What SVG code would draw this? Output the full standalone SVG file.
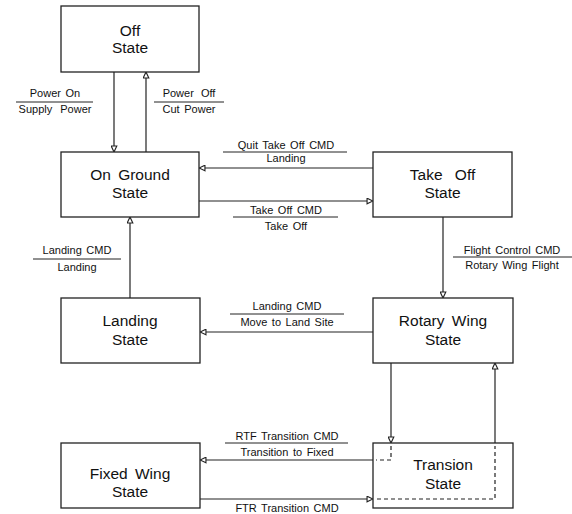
<svg xmlns="http://www.w3.org/2000/svg" width="572" height="514" viewBox="0 0 572 514">
<style>
.box{fill:#fff;stroke:#222;stroke-width:1.3}
.st{font-family:"Liberation Sans",Arial,sans-serif;font-size:15.5px;fill:#111;text-anchor:middle;word-spacing:3px}
.lb{font-family:"Liberation Sans",Arial,sans-serif;font-size:11px;fill:#111;text-anchor:middle;word-spacing:1.5px}
.ln{stroke:#222;stroke-width:1.2;fill:none}
.dash{stroke:#222;stroke-width:1.2;fill:none;stroke-dasharray:4,3}
.bar{stroke:#222;stroke-width:1}
</style>
<defs>
<marker id="ah" viewBox="0 0 10 10" refX="9.5" refY="5" markerWidth="7" markerHeight="7" orient="auto" markerUnits="userSpaceOnUse">
<path d="M1,1 L9.5,5 L1,9 Z" fill="#fff" stroke="#222" stroke-width="1.6"/>
</marker>
</defs>
<rect width="572" height="514" fill="#fff"/>
<g id="off">
<rect class="box" x="61" y="6" width="138" height="66"/>
<text class="st" x="130" y="36">Off</text>
<text class="st" x="130" y="53">State</text>
</g>
<g id="onground">
<rect class="box" x="61" y="152" width="138" height="65"/>
<text class="st" x="130" y="180">On Ground</text>
<text class="st" x="130" y="198">State</text>
</g>
<g id="takeoff">
<rect class="box" x="373" y="152" width="139" height="65"/>
<text class="st" x="442.5" y="180" style="word-spacing:8px">Take Off</text>
<text class="st" x="442.5" y="198">State</text>
</g>
<g id="landing">
<rect class="box" x="61" y="298" width="139" height="65"/>
<text class="st" x="130" y="326">Landing</text>
<text class="st" x="130" y="345">State</text>
</g>
<g id="rotarywing">
<rect class="box" x="373" y="298" width="140" height="65"/>
<text class="st" x="443" y="326">Rotary Wing</text>
<text class="st" x="443" y="345">State</text>
</g>
<g id="fixedwing">
<rect class="box" x="61" y="443" width="139" height="65"/>
<text class="st" x="130" y="479">Fixed Wing</text>
<text class="st" x="130" y="497">State</text>
</g>
<g id="transion">
<rect class="box" x="373" y="443" width="140" height="65"/>
<text class="st" x="443" y="470">Transion</text>
<text class="st" x="443" y="489">State</text>
</g>
<g id="connectors">
<line class="ln" x1="114" y1="72" x2="114" y2="152" marker-end="url(#ah)"/>
<line class="ln" x1="146" y1="152" x2="146" y2="72" marker-end="url(#ah)"/>
<line class="ln" x1="373" y1="168" x2="199" y2="168" marker-end="url(#ah)"/>
<line class="ln" x1="199" y1="201" x2="373" y2="201" marker-end="url(#ah)"/>
<line class="ln" x1="443" y1="217" x2="443" y2="298" marker-end="url(#ah)"/>
<line class="ln" x1="373" y1="332" x2="200" y2="332" marker-end="url(#ah)"/>
<line class="ln" x1="130" y1="298" x2="130" y2="217" marker-end="url(#ah)"/>
<line class="ln" x1="391" y1="363" x2="391" y2="443" marker-end="url(#ah)"/>
<polyline class="dash" points="391,446 391,460 376,460"/>
<line class="ln" x1="373" y1="460" x2="200" y2="460" marker-end="url(#ah)"/>
<line class="ln" x1="200" y1="499" x2="373" y2="499" marker-end="url(#ah)"/>
<polyline class="dash" points="377,499 495,499 495,446"/>
<line class="ln" x1="495" y1="443" x2="495" y2="363" marker-end="url(#ah)"/>
</g>
<g id="labels">
<text class="lb" x="55" y="97">Power On</text>
<line class="bar" x1="16" y1="102" x2="93" y2="102"/>
<text class="lb" x="55" y="113" style="word-spacing:5px">Supply Power</text>
<text class="lb" x="189" y="97" style="word-spacing:4px">Power Off</text>
<line class="bar" x1="154" y1="102" x2="224" y2="102"/>
<text class="lb" x="189" y="113">Cut Power</text>
<text class="lb" x="286" y="149">Quit Take Off CMD</text>
<line class="bar" x1="223" y1="152" x2="347" y2="152"/>
<text class="lb" x="286" y="162">Landing</text>
<text class="lb" x="286" y="214">Take Off CMD</text>
<line class="bar" x1="233" y1="217" x2="338" y2="217"/>
<text class="lb" x="286" y="230">Take Off</text>
<text class="lb" x="512" y="254">Flight Control CMD</text>
<line class="bar" x1="453" y1="257" x2="572" y2="257"/>
<text class="lb" x="512" y="269">Rotary Wing Flight</text>
<text class="lb" x="77" y="254">Landing CMD</text>
<line class="bar" x1="33" y1="259" x2="121" y2="259"/>
<text class="lb" x="77" y="271">Landing</text>
<text class="lb" x="287" y="310">Landing CMD</text>
<line class="bar" x1="230" y1="314" x2="344" y2="314"/>
<text class="lb" x="287" y="326">Move to Land Site</text>
<text class="lb" x="287" y="440">RTF Transition CMD</text>
<line class="bar" x1="225" y1="443" x2="348" y2="443"/>
<text class="lb" x="287" y="456">Transition to Fixed</text>
<text class="lb" x="287" y="512">FTR Transition CMD</text>
</g>
</svg>
